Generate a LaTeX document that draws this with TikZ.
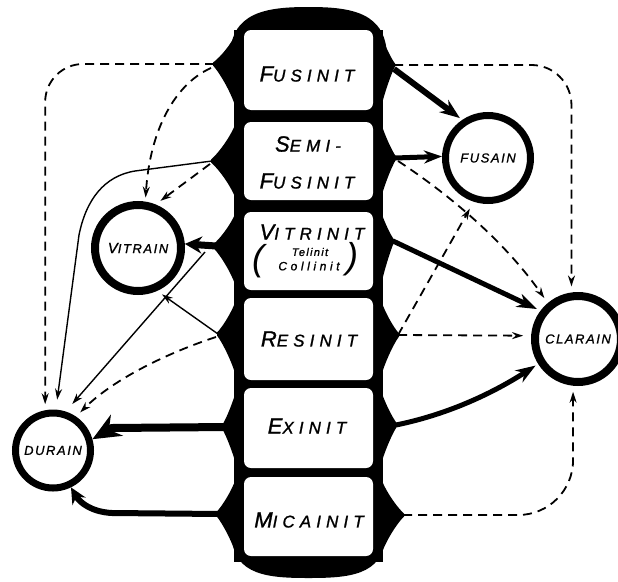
\documentclass[tikz,border=0pt]{standalone}
\usepackage{fontspec}
\setmainfont{Liberation Sans}
\newfontfamily\hand[LetterSpace=30,FakeBold=1.2]{Liberation Sans}
\newfontfamily\handc[LetterSpace=12,FakeBold=1]{Liberation Sans}
\usetikzlibrary{arrows.meta}
\newcommand\bC[1]{{\fontsize{22}{22}\selectfont #1}}
\newcommand\sC[1]{{\fontsize{17}{17}\selectfont #1}}
\newcommand\cC[1]{{\fontsize{13}{13}\selectfont #1}}
\newcommand\cB[1]{{\fontsize{15}{15}\selectfont #1}}
% left flare: #1 top y, #2 bottom y, #3 tip x, #4 tip y
\newcommand\flL[4]{\fill (238,#1) .. controls (234,{#1+0.38*(#4-#1)}) and ({#3+0.32*(234-#3)},{#4-0.17*(#4-#1)}) .. (#3,{#4-1.5}) -- (#3,{#4+1.5}) .. controls ({#3+0.32*(234-#3)},{#4+0.17*(#2-#4)}) and (234,{#2-0.38*(#2-#4)}) .. (238,#2) -- cycle;}
\newcommand\flR[4]{\fill (379,#1) .. controls (383,{#1+0.38*(#4-#1)}) and ({#3-0.32*(#3-383)},{#4-0.17*(#4-#1)}) .. (#3,{#4-1.5}) -- (#3,{#4+1.5}) .. controls ({#3-0.32*(#3-383)},{#4+0.17*(#2-#4)}) and (383,{#2-0.38*(#2-#4)}) .. (379,#2) -- cycle;}
\begin{document}
\begin{tikzpicture}[x=1pt,y=-1pt,
  box/.style={fill=white, rounded corners=7pt, minimum width=129pt, inner sep=0pt},
  ring/.style={circle, draw=black, fill=white, inner sep=0pt, font=\handc\itshape},
  lab/.style={font=\hand\itshape, inner sep=0pt},
  dsh/.style={line width=1.8pt, dash pattern=on 9pt off 6pt},
  thn/.style={line width=1.4pt},
  arr/.style={-{Stealth[length=11pt,width=7pt]}, shorten >=6pt}]
\useasboundingbox (0,0) rectangle (618,581);
\fill[white] (0,0) rectangle (618,581);

% ---------- central black column ----------
\fill (230,58) .. controls (230,12) and (266,7) .. (308.5,7) .. controls (351,7) and (387,12) .. (387,58) -- cycle;
\fill (232,536) .. controls (233,576) and (270,578) .. (308.5,578) .. controls (347,578) and (384,576) .. (385,536) -- cycle;
\fill (234,30) rectangle (383,562);
\flL{28}{116}{213}{64}
\flL{116}{206}{211}{161}
\flL{206}{294}{213}{246}
\flL{294}{384}{217}{334}
\flL{384}{472}{222}{427}
\flL{472}{562}{216}{514}
\flR{28}{116}{395}{65}
\flR{116}{206}{396}{158}
\flR{206}{294}{394}{241}
\flR{294}{384}{399}{335}
\flR{384}{472}{397}{425}
\flR{472}{562}{404}{515}

% ---------- boxes ----------
\node[box, minimum height=80pt] (fus)  at (308.5,70) {};
\node[box, minimum height=78pt] (semi) at (308.5,161) {};
\node[box, minimum height=78pt] (vit)  at (308.5,251) {};
\node[box, minimum height=82pt] (res)  at (308.5,339) {};
\node[box, minimum height=80pt] (exi)  at (308.5,428) {};
\node[box, minimum height=79pt] (mic)  at (308.5,516.5) {};

\node[lab] (tfus) at (307,74) {\bC{F}\sC{USINIT}};
\node[lab] (tsemi) at (308,144) {\bC{S}\sC{EMI-}};
\node[lab] (tsfus) at (307,181) {\bC{F}\sC{USINIT}};
\node[lab] (tvit) at (312,232) {\bC{V}\sC{ITRINIT}};
\node[lab, font=\handc\itshape\fontsize{11}{11}\selectfont] (ttel) at (310,252) {Telinit};
\node[lab, font=\hand\itshape\fontsize{12}{12}\selectfont] (tcol) at (309,266) {Collinit};
\node[lab, font=\fontsize{36}{36}\selectfont\itshape] (lpar) at (258,261) {(};
\node[lab, font=\fontsize{36}{36}\selectfont\itshape] (rpar) at (352,259) {)};
\node[lab] (tres) at (309,339) {\bC{R}\sC{ESINIT}};
\node[lab] (texi) at (307,426) {\bC{E}\sC{XINIT}};
\node[lab] (tmic) at (309,520) {\bC{M}\sC{ICAINIT}};

% ---------- circles ----------
\node[ring, line width=8pt, minimum size=86pt] (vitrain) at (138,248) {\cB{V}\cC{ITRAIN}};
\node[ring, line width=7pt, minimum size=85pt] (fusain) at (488,158) {\cC{FUSAIN}};
\node[ring, line width=8pt, minimum size=86pt] (clarain) at (578,339) {\cC{CLARAIN}};
\node[ring, line width=7pt, minimum size=75pt] (durain) at (53,450.5) {\cC{DURAIN}};

% ---------- flare tips ----------
\coordinate (fusL) at (214,64);
\coordinate (fusLb) at (211,68);
\coordinate (semiL) at (212,161);
\coordinate (semiLb) at (210,164);
\coordinate (vitL) at (216,246);
\coordinate (vitLb) at (205,252);
\coordinate (resL) at (218,334);
\coordinate (resLb) at (216,337);
\coordinate (exiL) at (226,427);
\coordinate (micL) at (220,514);
\coordinate (fusR) at (394,65);
\coordinate (fusRb) at (394,69);
\coordinate (semiR) at (395,158);
\coordinate (semiRb) at (398,161);
\coordinate (vitR) at (393,241);
\coordinate (resR) at (398,335);
\coordinate (exiR) at (396,425);
\coordinate (micR) at (403,515);

% ---------- left connectors ----------
\draw[dsh, arr, rounded corners=38pt] (fusL) -| (durain.101);
\draw[dsh, arr, shorten >=4pt] (fusLb) .. controls (175,84) and (150,130) .. (vitrain.81);
\draw[thn, arr, shorten >=10pt] (semiL) -- (135,171) .. controls (104,176) and (86,200) .. (79,235) -- (durain.86);
\draw[dsh, arr] (semiLb) -- (vitrain.68);
\draw[line width=7pt, -{Stealth[length=17pt,width=17pt]}] (vitL) -- (vitrain.5);
\draw[thn, arr, shorten >=10pt] (vitLb) -- (durain.72);
\draw[thn, arr] (resL) -- (vitrain.-66);
\draw[dsh, arr] (resLb) .. controls (170,352) and (115,378) .. (durain.56);
\draw[line width=8pt, -{Stealth[length=28pt,width=24pt]}] (exiL) -- (112,428) -- (durain.16);
\draw[line width=6pt, -{Stealth[length=16pt,width=15pt]}] (micL) -- (112,513) .. controls (92,512) and (80,503) .. (durain.-64);

% ---------- right connectors ----------
\draw[dsh, arr, rounded corners=40pt] (fusR) -| (clarain.98);
\draw[line width=6pt, -{Stealth[length=20pt,width=15pt]}, shorten >=3pt] (fusRb) -- (fusain.124);
\draw[line width=5pt, -{Stealth[length=18pt,width=13pt]}] (semiR) -- (fusain.178);
\draw[dsh, arr] (semiRb) .. controls (450,195) and (505,242) .. (clarain.130);
\draw[line width=5pt, -{Stealth[length=20pt,width=14pt]}, shorten >=4pt] (vitR) -- (clarain.143);
\draw[dsh, arr, shorten >=8pt] (resR) -- (fusain.-108);
\draw[dsh, arr, shorten >=8pt] (resR) -- (clarain.176);
\draw[line width=5pt, -{Stealth[length=20pt,width=14pt]}, shorten >=3pt] (exiR) .. controls (445,415) and (490,395) .. (clarain.212);
\draw[dsh, arr, rounded corners=55pt] (micR) -| (clarain.-96);
\end{tikzpicture}
\end{document}
